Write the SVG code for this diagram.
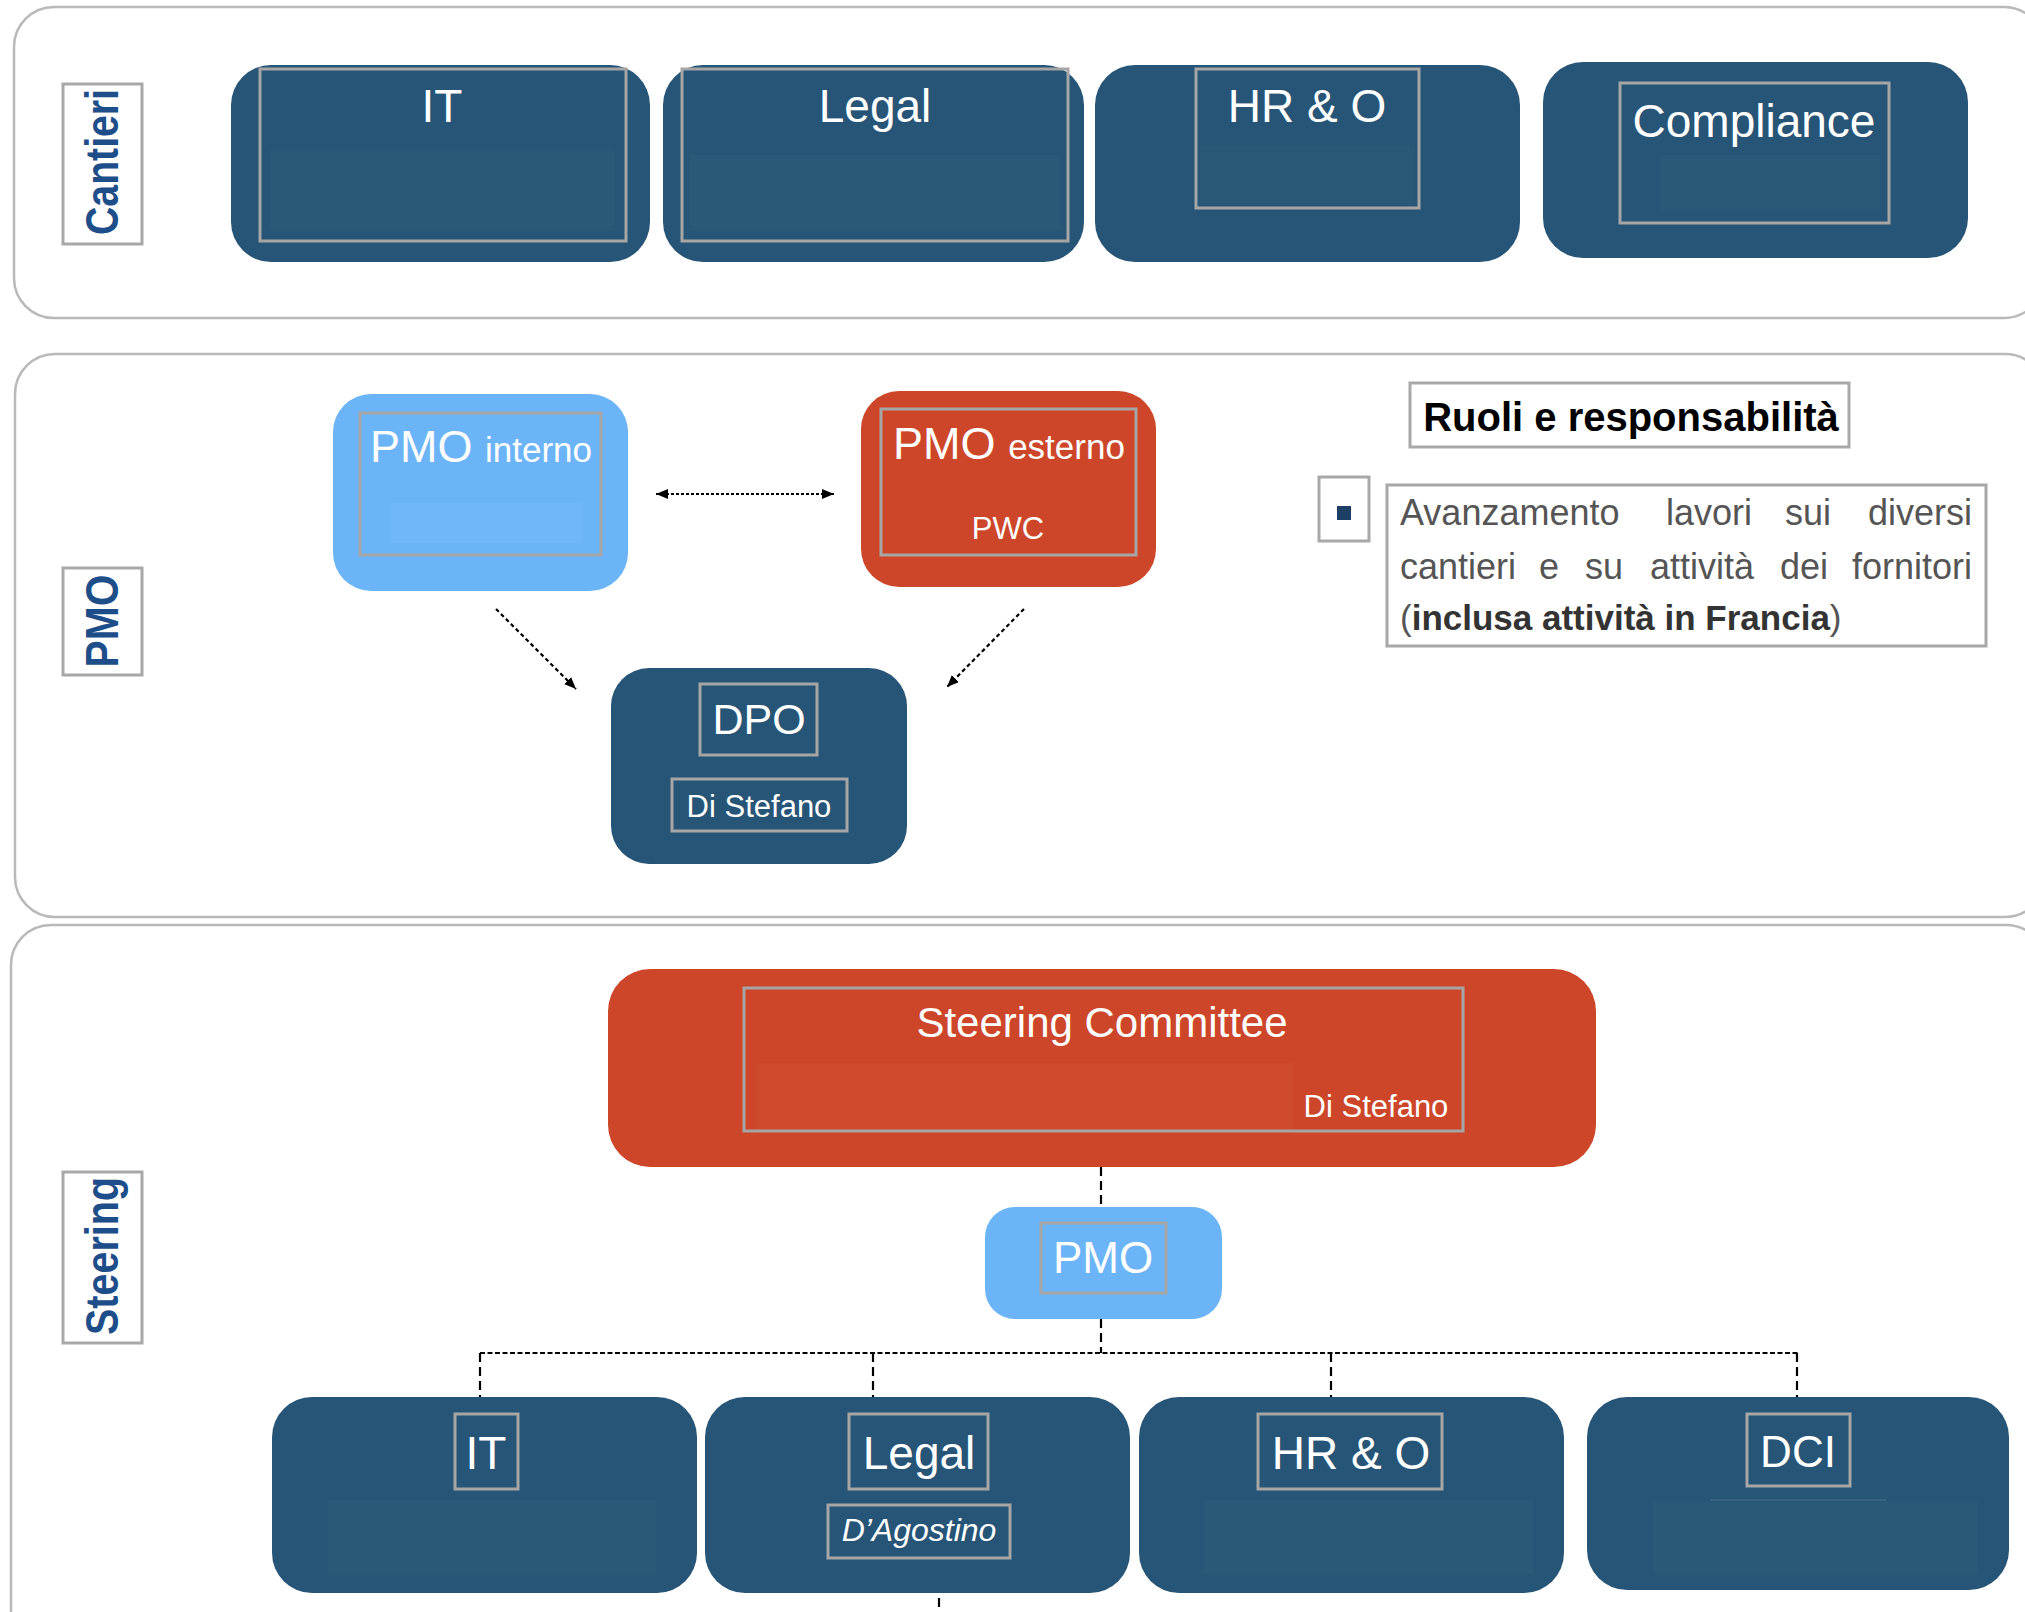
<svg xmlns="http://www.w3.org/2000/svg" width="2025" height="1612" viewBox="0 0 2025 1612">
<style>
.panel{fill:#fff;stroke:#b9b9b9;stroke-width:2.5}
.lbl{fill:#fff;stroke:#a8a8a8;stroke-width:3}
.side{font-family:"Liberation Sans",Arial,sans-serif;font-weight:bold;font-size:46px;fill:#1d4e89}
.dark{fill:#275577}
.red{fill:#cd4629}
.lb{fill:#6bb4f7}
.inner{fill:none;stroke:#a6a6a6;stroke-width:3}
.t{font-family:"Liberation Sans",Arial,sans-serif;fill:#fff;text-anchor:middle}
.big{font-size:46px}
.mid{font-size:31px}
.faintd{fill:#2a5878}
.conn{fill:none;stroke:#000;stroke-width:2.2}
.body{font-family:"Liberation Sans",Arial,sans-serif;font-size:36px;fill:#555}
</style>
<defs>
<marker id="ah" markerUnits="userSpaceOnUse" markerWidth="14" markerHeight="12" refX="12" refY="5" orient="auto-start-reverse">
<path d="M0,0 L12,5 L0,10 z" fill="#000"/>
</marker>
</defs>

<g id="panel-cantieri">
<rect class="panel" x="14" y="7" width="2030" height="311" rx="40"/>
<rect class="lbl" x="63" y="84" width="79" height="160"/>
<text class="side" transform="translate(118,162) rotate(-90)" text-anchor="middle" textLength="146" lengthAdjust="spacingAndGlyphs">Cantieri</text>
</g>
<g id="panel-pmo">
<rect class="panel" x="15" y="354" width="2030" height="563" rx="40"/>
<rect class="lbl" x="63" y="568" width="79" height="107"/>
<text class="side" transform="translate(118,621) rotate(-90)" text-anchor="middle" textLength="93" lengthAdjust="spacingAndGlyphs">PMO</text>
</g>
<g id="panel-steering">
<rect class="panel" x="11" y="925" width="2035" height="740" rx="40"/>
<rect class="lbl" x="63" y="1172" width="79" height="171"/>
<text class="side" transform="translate(118,1256) rotate(-90)" text-anchor="middle" textLength="158" lengthAdjust="spacingAndGlyphs">Steering</text>
</g>

<g id="c-it">
<rect class="dark" x="231" y="65" width="419" height="197" rx="40"/>
<rect class="faintd" x="270" y="150" width="344" height="80"/>
<rect class="inner" x="260" y="69" width="366" height="172"/>
<text class="t big" x="442" y="122">IT</text>
</g>
<g id="c-legal">
<rect class="dark" x="663" y="65" width="421" height="197" rx="40"/>
<rect class="faintd" x="690" y="155" width="370" height="75"/>
<rect class="inner" x="682" y="69" width="386" height="172"/>
<text class="t big" x="875" y="122">Legal</text>
</g>
<g id="c-hro">
<rect class="dark" x="1095" y="65" width="425" height="197" rx="40"/>
<rect class="faintd" x="1200" y="145" width="215" height="60"/>
<rect class="inner" x="1196" y="69" width="223" height="139"/>
<text class="t big" x="1307" y="122">HR &amp; O</text>
</g>
<g id="c-compliance">
<rect class="dark" x="1543" y="62" width="425" height="196" rx="40"/>
<rect class="faintd" x="1660" y="155" width="220" height="55"/>
<rect class="inner" x="1620" y="83" width="269" height="140"/>
<text class="t big" x="1754" y="137">Compliance</text>
</g>

<g id="pmo-interno">
<rect class="lb" x="333" y="394" width="295" height="197" rx="38"/>
<rect x="390" y="503" width="192" height="40" fill="#6fb7f9"/>
<rect class="inner" x="360" y="413" width="241" height="142"/>
<text class="t" x="481" y="462"><tspan font-size="45">PMO </tspan><tspan font-size="35">interno</tspan></text>
</g>
<g id="pmo-esterno">
<rect class="red" x="861" y="391" width="295" height="196" rx="38"/>
<rect class="inner" x="881" y="409" width="255" height="146"/>
<text class="t" x="1009" y="459"><tspan font-size="45">PMO </tspan><tspan font-size="35">esterno</tspan></text>
<text class="t mid" x="1008" y="539">PWC</text>
</g>
<g id="dpo">
<rect class="dark" x="611" y="668" width="296" height="196" rx="38"/>
<rect class="inner" x="700" y="684" width="117" height="71"/>
<text class="t" x="759" y="734" font-size="43">DPO</text>
<rect class="inner" x="672" y="779" width="175" height="52"/>
<text class="t mid" x="759" y="817">Di Stefano</text>
</g>

<g id="ruoli">
<rect x="1410" y="383" width="439" height="64" fill="#fff" stroke="#a8a8a8" stroke-width="3"/>
<text x="1631" y="431" font-family="Liberation Sans,Arial,sans-serif" font-weight="bold" font-size="40" fill="#000" text-anchor="middle">Ruoli e responsabilità</text>
<rect x="1319" y="477" width="50" height="64" fill="#fff" stroke="#a8a8a8" stroke-width="3"/>
<rect x="1337" y="506" width="14" height="14" fill="#1e3f66"/>
<rect x="1387" y="485" width="599" height="161" fill="#fff" stroke="#a8a8a8" stroke-width="3"/>
<g class="body">
<text x="1400" y="525">Avanzamento</text>
<text x="1709" y="525" text-anchor="middle">lavori</text>
<text x="1808" y="525" text-anchor="middle">sui</text>
<text x="1972" y="525" text-anchor="end">diversi</text>
<text x="1400" y="579">cantieri</text>
<text x="1549" y="579" text-anchor="middle">e</text>
<text x="1604" y="579" text-anchor="middle">su</text>
<text x="1702" y="579" text-anchor="middle">attività</text>
<text x="1804" y="579" text-anchor="middle">dei</text>
<text x="1972" y="579" text-anchor="end">fornitori</text>
<text x="1400" y="630" font-size="35">(<tspan font-weight="bold" fill="#333">inclusa attività in Francia</tspan>)</text>
</g>
</g>

<g id="steering-committee">
<rect class="red" x="608" y="969" width="988" height="198" rx="42"/>
<rect x="757" y="1063" width="536" height="67" fill="#cf492c"/>
<rect class="inner" x="744" y="988" width="719" height="143"/>
<text class="t" x="1102" y="1037" font-size="42">Steering Committee</text>
<text class="t mid" x="1376" y="1117">Di Stefano</text>
</g>
<g id="pmo-steering">
<rect class="lb" x="985" y="1207" width="237" height="112" rx="30"/>
<rect class="inner" x="1041" y="1223" width="125" height="70"/>
<text class="t" x="1103" y="1273" font-size="44">PMO</text>
</g>

<g id="s-it">
<rect class="dark" x="272" y="1397" width="425" height="196" rx="40"/>
<rect class="faintd" x="328" y="1500" width="328" height="74"/>
<rect class="inner" x="455" y="1414" width="63" height="75"/>
<text class="t big" x="486" y="1469">IT</text>
</g>
<g id="s-legal">
<rect class="dark" x="705" y="1397" width="425" height="196" rx="40"/>
<rect class="inner" x="849" y="1414" width="139" height="75"/>
<text class="t big" x="919" y="1469">Legal</text>
<rect class="inner" x="828" y="1505" width="182" height="53"/>
<text class="t" x="919" y="1541" font-size="32" font-style="italic">D’Agostino</text>
</g>
<g id="s-hro">
<rect class="dark" x="1139" y="1397" width="425" height="196" rx="40"/>
<rect class="faintd" x="1204" y="1500" width="329" height="74"/>
<rect class="inner" x="1258" y="1414" width="184" height="75"/>
<text class="t big" x="1351" y="1469">HR &amp; O</text>
</g>
<g id="s-dci">
<rect class="dark" x="1587" y="1397" width="422" height="193" rx="40"/>
<rect class="faintd" x="1653" y="1502" width="325" height="72"/>
<line x1="1710" y1="1500" x2="1886" y2="1500" stroke="#4a7090" stroke-width="1"/>
<rect class="inner" x="1747" y="1414" width="103" height="72"/>
<text class="t" x="1798" y="1467" font-size="44">DCI</text>
</g>

<g id="connectors">
<line class="conn" x1="656" y1="494" x2="834" y2="494" stroke-dasharray="3 2" marker-start="url(#ah)" marker-end="url(#ah)"/>
<line class="conn" x1="496" y1="609" x2="576" y2="689" stroke-dasharray="4 3" marker-end="url(#ah)"/>
<line class="conn" x1="1024" y1="609" x2="947" y2="687" stroke-dasharray="4 3" marker-end="url(#ah)"/>
<line class="conn" x1="1101" y1="1167" x2="1101" y2="1207" stroke-width="2.5" stroke-dasharray="9 5"/>
<line class="conn" x1="1101" y1="1319" x2="1101" y2="1353" stroke-width="2.5" stroke-dasharray="9 5"/>
<line class="conn" x1="480" y1="1353" x2="1798" y2="1353" stroke-width="3.5" stroke-dasharray="5 2.5"/>
<line class="conn" x1="480" y1="1353" x2="480" y2="1397" stroke-width="2.5" stroke-dasharray="9 5"/>
<line class="conn" x1="873" y1="1353" x2="873" y2="1397" stroke-width="2.5" stroke-dasharray="9 5"/>
<line class="conn" x1="1331" y1="1353" x2="1331" y2="1397" stroke-width="2.5" stroke-dasharray="9 5"/>
<line class="conn" x1="1797" y1="1353" x2="1797" y2="1397" stroke-width="2.5" stroke-dasharray="9 5"/>
<line class="conn" x1="939" y1="1598" x2="939" y2="1612" stroke-width="2" stroke-dasharray="9 5"/>
</g>
</svg>
